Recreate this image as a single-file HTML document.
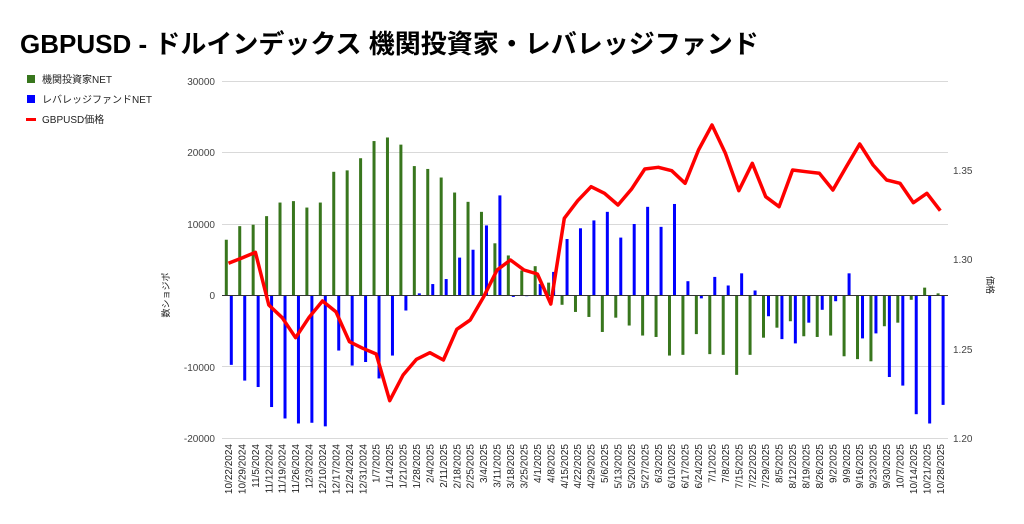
<!DOCTYPE html>
<html><head><meta charset="utf-8">
<style>
html,body{margin:0;padding:0;background:#fff;}
body{width:1024px;height:519px;overflow:hidden;}
svg text{font-family:"Liberation Sans","Noto Sans CJK JP",sans-serif;}
</style></head>
<body>
<svg id="c" width="1024" height="519" xmlns="http://www.w3.org/2000/svg">
<text x="20" y="53" font-size="26" font-weight="bold" fill="#000">GBPUSD - ドルインデックス 機関投資家・レバレッジファンド</text>
<rect x="27" y="75" width="8" height="8" fill="#38761d"/>
<text x="42" y="83" font-size="10" fill="#222">機関投資家NET</text>
<rect x="27" y="95" width="8" height="8" fill="#0000ff"/>
<text x="42" y="103" font-size="10" fill="#222">レバレッジファンドNET</text>
<rect x="26" y="118" width="10" height="3" fill="#ff0000"/>
<text x="42" y="123" font-size="10" fill="#222">GBPUSD価格</text>
<g stroke="#d9d9d9" stroke-width="1">
<line x1="222" x2="948" y1="81.5" y2="81.5"/><line x1="222" x2="948" y1="152.5" y2="152.5"/>
<line x1="222" x2="948" y1="224.5" y2="224.5"/><line x1="222" x2="948" y1="366.5" y2="366.5"/>
<line x1="222" x2="948" y1="438.5" y2="438.5"/>
</g>
<g font-size="10" fill="#444" text-anchor="end">
<text x="215" y="85">30000</text><text x="215" y="156">20000</text><text x="215" y="228">10000</text>
<text x="215" y="299">0</text><text x="215" y="371">-10000</text><text x="215" y="442">-20000</text>
</g>
<g font-size="10" fill="#444">
<text x="953" y="174">1.35</text><text x="953" y="263">1.30</text><text x="953" y="353">1.25</text><text x="953" y="442">1.20</text>
</g>
<text transform="translate(169,295) rotate(-90)" font-size="9" fill="#222" text-anchor="middle">数ショジポ</text>
<text transform="translate(987,285) rotate(90)" font-size="9" fill="#222" text-anchor="middle">価格</text>
<g id="bars"></g>
<line x1="222" x2="948" y1="295.5" y2="295.5" stroke="#333" stroke-width="1"/>
<polyline id="pl" fill="none" stroke="#ff0000" stroke-width="3.5" stroke-linejoin="round" points=""/>
<g id="xl" font-size="10" fill="#222"></g>
</svg>
<script>
var G=[7800,9700,9900,11100,13000,13200,12300,13000,17300,17500,19200,21600,22100,21100,18100,17700,16500,14400,13100,11700,7300,5600,3500,4100,1800,-1300,-2300,-3000,-5100,-3100,-4200,-5600,-5800,-8400,-8300,-5400,-8200,-8300,-11100,-8300,-5900,-4500,-3600,-5700,-5800,-5600,-8500,-8900,-9200,-4300,-3800,-600,1100,300];
var B=[-9700,-11900,-12800,-15600,-17200,-17900,-17800,-18300,-7700,-9800,-9300,-11600,-8400,-2100,300,1600,2300,5300,6400,9800,14000,-200,-100,1600,3300,7900,9400,10500,11700,8100,10000,12400,9600,12800,2000,-400,2600,1400,3100,700,-2900,-6100,-6700,-3800,-2000,-800,3100,-6000,-5300,-11400,-12600,-16600,-17900,-15300];
var P=[263.3,258,252.3,305,317.7,337.7,317.3,301,311.7,341.7,348.3,354,400.7,375,359.3,352.7,360,329.3,320,296.7,270,260,270,274,304,218.3,200.7,186.7,193.3,205,189.3,169,167.3,170.7,183.3,150,125,153.3,190.7,163.3,196.7,206.7,170,171.7,173.3,190,166.7,144,165,180,183.3,202.7,193.3,210.7];
var L=[];var d=new Date(2024,9,22);
for(var i=0;i<54;i++){var t=new Date(d.getTime()+i*7*864e5);L.push((t.getMonth()+1)+"/"+t.getDate()+"/"+t.getFullYear());}
var ns="http://www.w3.org/2000/svg",bars=document.getElementById("bars"),xl=document.getElementById("xl"),pts=[];
function r(x,v,c){var y=295.5-v*71.5/10000;var e=document.createElementNS(ns,"rect");e.setAttribute("x",x);e.setAttribute("width",3);e.setAttribute("y",Math.min(y,295.5));e.setAttribute("height",Math.abs(295.5-y));e.setAttribute("fill",c);bars.appendChild(e);}
for(var i=0;i<54;i++){var cx=228.5+13.43*i;r(cx-3.7,G[i],"#38761d");r(cx+1.3,B[i],"#0000ff");pts.push(cx.toFixed(1)+","+P[i]);
var t=document.createElementNS(ns,"text");t.setAttribute("transform","translate("+(cx+3.5).toFixed(1)+",444) rotate(-90)");t.setAttribute("text-anchor","end");t.textContent=L[i];xl.appendChild(t);}
document.getElementById("pl").setAttribute("points",pts.join(" "));
</script>
</body></html>
